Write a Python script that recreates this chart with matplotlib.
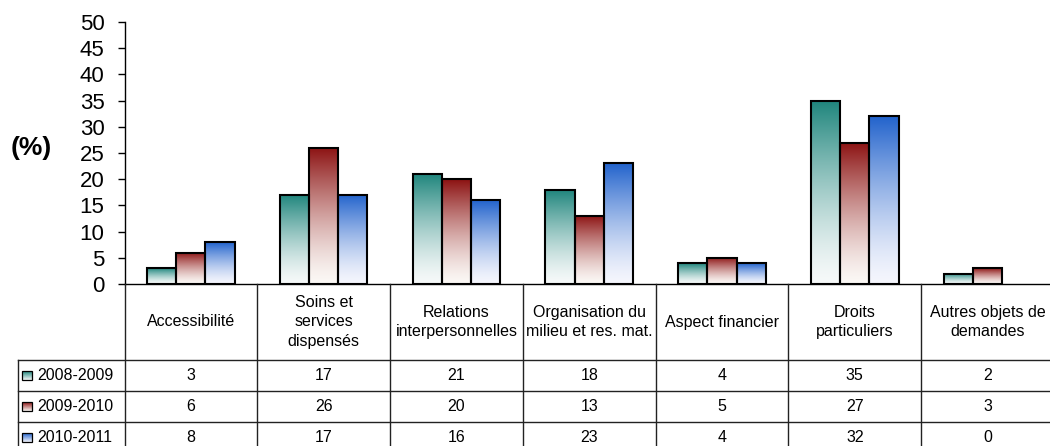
import numpy as np
import matplotlib
matplotlib.use("Agg")
import matplotlib.pyplot as plt
from matplotlib.patches import Rectangle

plt.rcParams["font.family"] = ["Liberation Sans", "DejaVu Sans"]

categories = [
    "Accessibilité",
    "Soins et\nservices\ndispensés",
    "Relations\ninterpersonnelles",
    "Organisation du\nmilieu et res. mat.",
    "Aspect financier",
    "Droits\nparticuliers",
    "Autres objets de\ndemandes",
]
periods = ["2008-2009", "2009-2010", "2010-2011"]
values_2008_2009 = [3, 17, 21, 18, 4, 35, 2]
values_2009_2010 = [6, 26, 20, 13, 5, 27, 3]
values_2010_2011 = [8, 17, 16, 23, 4, 32, 0]
series = [values_2008_2009, values_2009_2010, values_2010_2011]

top_colors = ["#1e857c", "#8c1212", "#2263cc"]
bottom_colors = ["#f6f9f9", "#fbf8f5", "#f5f6fd"]

W, H = 1050, 446
fig = plt.figure(figsize=(W / 100, H / 100), dpi=100)

# plot area in pixels
ax_left, ax_right = 124.5, 1054.0
ax_top, ax_bottom = 22.0, 284.0
ax = fig.add_axes([ax_left / W, 1 - ax_bottom / H,
                   (ax_right - ax_left) / W, (ax_bottom - ax_top) / H])

n = len(categories)
ax.set_yticks(np.arange(0, 51, 5))
ax.set_xticks([])
ax.tick_params(axis="y", length=5, width=1, pad=9.5, labelsize=16, color="black")
for s in ["top", "right"]:
    ax.spines[s].set_visible(False)
for s in ["left", "bottom"]:
    ax.spines[s].set_linewidth(1.0)
    ax.spines[s].set_color("black")
    ax.spines[s].set_zorder(5)

fig.text(31 / W, 1 - 148 / H, "(%)", fontsize=19, fontweight="bold",
         ha="center", va="center")


def gradient(top, bottom, steps=256, gamma=1.4):
    t = np.linspace(0, 1, steps) ** gamma
    c0 = np.array(matplotlib.colors.to_rgb(bottom))
    c1 = np.array(matplotlib.colors.to_rgb(top))
    return (c0[None, :] + (c1 - c0)[None, :] * t[:, None])[:, None, :]


bar_w = 0.22
x = np.arange(n)
for i, vals in enumerate(series):
    offs = (i - 1) * bar_w
    bars = ax.bar(x + offs, vals, width=bar_w, facecolor="none",
                  edgecolor="black", linewidth=1.5, zorder=3)
    grad = gradient(top_colors[i], bottom_colors[i])
    for b in bars:
        h = b.get_height()
        if h <= 0:
            b.set_linewidth(0)
            continue
        x0 = b.get_x()
        ax.imshow(grad, extent=[x0, x0 + b.get_width(), 0, h], origin="lower",
                  aspect="auto", zorder=2, interpolation="bilinear")
ax.set_xlim(-0.5, n - 0.5)
ax.set_ylim(0, 50)

# data table below the plot, sharing the category scale
tab = fig.add_axes([ax_left / W, 0, (ax_right - ax_left) / W, (H - ax_bottom) / H],
                   sharex=ax)
tab.axis("off")
units_per_px = n / (ax_right - ax_left)


def px_to_x(px):
    return -0.5 - (ax_left - px) * units_per_px


header_h = 76
row_h = 31
row_tops = [header_h + k * row_h for k in range(len(periods))]
table_bottom = header_h + len(periods) * row_h
left_edge = px_to_x(18)

line_kw = dict(color="#222222", linewidth=1.0, clip_on=False)
for k in range(n + 1):
    tab.plot([k - 0.5, k - 0.5], [0, table_bottom], **line_kw)
tab.plot([left_edge, left_edge], [header_h, table_bottom], **line_kw)
for yv in row_tops + [table_bottom]:
    tab.plot([left_edge, n - 0.5], [yv, yv], **line_kw)

for k, name in enumerate(categories):
    tab.text(k, header_h / 2, name, ha="center", va="center", fontsize=11.5,
             linespacing=1.4, color="black")

for i, (name, vals) in enumerate(zip(periods, series)):
    yc = row_tops[i] + row_h / 2
    sq0, sq1 = px_to_x(22), px_to_x(32)
    tab.imshow(gradient(top_colors[i], bottom_colors[i], gamma=1.0)[::-1],
               extent=[sq0, sq1, yc + 4.5, yc - 4.5], aspect="auto",
               clip_on=False, zorder=3)
    tab.add_patch(Rectangle((sq0, yc - 4.5), sq1 - sq0, 9, facecolor="none",
                            edgecolor="black", linewidth=0.9, clip_on=False,
                            zorder=4))
    tab.text(px_to_x(37), yc, name, ha="left", va="center", fontsize=11.5)
    for k, v in enumerate(vals):
        tab.text(k, yc, str(v), ha="center", va="center", fontsize=11.5)

tab.set_xlim(-0.5, n - 0.5)
tab.set_ylim(H - ax_bottom, 0)

fig.savefig("out.png", dpi=100)
